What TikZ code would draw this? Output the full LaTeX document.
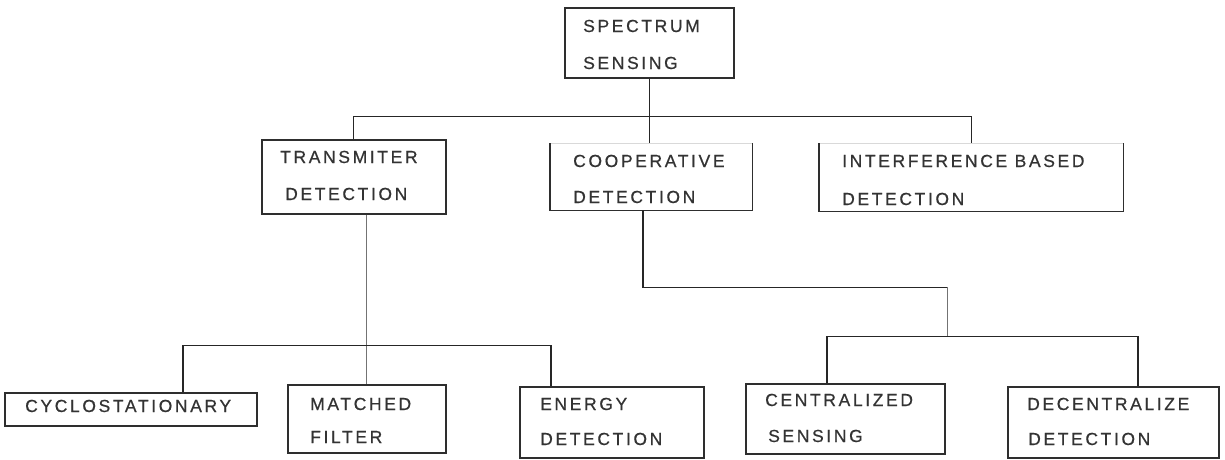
\documentclass[tikz,border=0pt]{standalone}
\usepackage{fontspec}
\setmainfont{Liberation Sans}[LetterSpace=15,FakeBold=0.6]
\usetikzlibrary{calc}
\definecolor{txtgray}{HTML}{333333}
\definecolor{boxline}{HTML}{2E2E2E}
\begin{document}
\begin{tikzpicture}[x=1pt,y=-1pt,
  box/.style={draw=boxline,line width=1.6pt,rectangle,anchor=north west,inner sep=0pt},
  opentop/.style={rectangle,anchor=north west,inner sep=0pt},
  lbl/.style={anchor=base west,inner sep=0pt,text=txtgray,font=\fontsize{17.5}{19}\selectfont},
  conn/.style={draw=black!85,line width=1.3pt},
  thinconn/.style={draw=black!55,line width=0.9pt}]
\useasboundingbox (0,0) rectangle (1225,459);
\fill[white] (0,0) rectangle (1225,459);

% boxes
\node[box,minimum width=169pt,minimum height=70pt] (spec) at (564,7) {};
\node[box,minimum width=184pt,minimum height=74pt] (trans) at (261,139) {};
\node[opentop,minimum width=202pt,minimum height=67pt] (coop) at (550,143) {};
\node[opentop,minimum width=304pt,minimum height=68pt] (inter) at (819,143) {};
\node[box,minimum width=252pt,minimum height=33pt] (cyclo) at (4,392) {};
\node[box,minimum width=158pt,minimum height=68pt] (match) at (287,384) {};
\node[box,minimum width=184pt,minimum height=71pt] (energy) at (519,386) {};
\node[box,minimum width=199pt,minimum height=70pt] (central) at (745,383) {};
\node[box,minimum width=211pt,minimum height=71pt] (decent) at (1007,386) {};

% open-top boxes (top border almost invisible)
\draw[black!15,line width=1pt] (coop.north west) -- (coop.north east);
\draw[boxline,line width=1.6pt] (coop.north west) -- (coop.south west) -- (coop.south east) -- (coop.north east);
\draw[black!15,line width=1pt] (inter.north west) -- (inter.north east);
\draw[boxline,line width=1.6pt] (inter.north west) -- (inter.south west) -- (inter.south east) -- (inter.north east);

% labels
\node[lbl] (t1a) at (583,32) {SPECTRUM};
\node[lbl] (t1b) at (583,69) {SENSING};
\node[lbl] (t2a) at (280,163) {TRANSMITER};
\node[lbl] (t2b) at (285,200) {DETECTION};
\node[lbl] (t3a) at (573,167) {COOPERATIVE};
\node[lbl] (t3b) at (573,203) {DETECTION};
\node[lbl] (t4a) at (842,167) {INTERFERENCE BASED};
\node[lbl] (t4b) at (842,205) {DETECTION};
\node[lbl] (t5) at (25,412) {CYCLOSTATIONARY};
\node[lbl] (t6a) at (310,410) {MATCHED};
\node[lbl] (t6b) at (310,443) {FILTER};
\node[lbl] (t7a) at (540,410) {ENERGY};
\node[lbl] (t7b) at (540,445) {DETECTION};
\node[lbl] (t8a) at (765,406) {CENTRALIZED};
\node[lbl] (t8b) at (768,442) {SENSING};
\node[lbl] (t9a) at (1027,410) {DECENTRALIZE};
\node[lbl] (t9b) at (1028,445) {DETECTION};

% connector points
\coordinate (bus1) at ($(spec.south)+(0,38)$);
\coordinate (cycA) at ($(cyclo.north west)+(179,0)$);
\coordinate (enA) at ($(energy.north west)+(32,0)$);
\coordinate (bus2) at ($(trans.south)+(0,131)$);
\coordinate (coA) at ($(coop.south west)+(93,0)$);
\coordinate (elbow) at ($(coA)+(0,77)$);
\coordinate (elbowR) at ($(elbow)+(304,0)$);
\coordinate (bus3) at ($(elbowR)+(0,49)$);
\coordinate (ceA) at ($(central.north west)+(82,0)$);
\coordinate (deA) at ($(decent.north west)+(131,0)$);

% level 1
\draw[conn] (spec.south) -- (bus1);
\draw[conn] (trans.north) |- (bus1 -| inter.north) -- (inter.north);
\draw[conn] (bus1) -- (bus1 |- coop.north);

% transmitter children
\draw[thinconn] (match.north |- trans.south) -- (match.north);
\draw[conn] (cycA) |- (bus2 -| enA) -- (enA);

% cooperative children
\draw[conn] (coA) -- (elbow) -- (elbowR);
\draw[thinconn] (elbowR) -- (bus3);
\draw[conn] (ceA) |- (bus3 -| deA) -- (deA);
\end{tikzpicture}
\end{document}
